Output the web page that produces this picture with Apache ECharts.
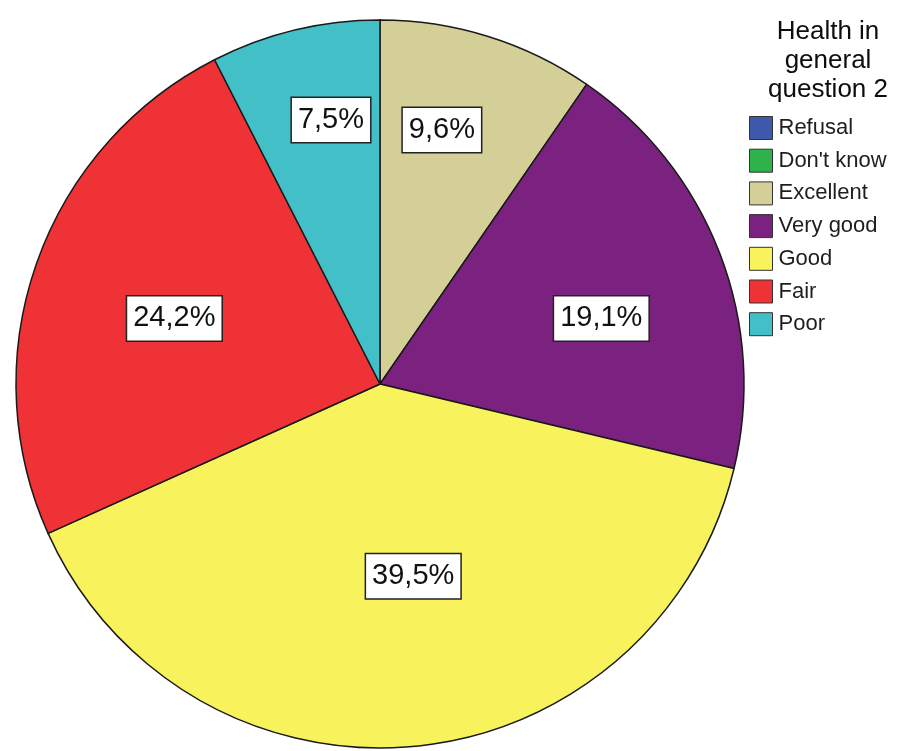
<!DOCTYPE html>
<html>
<head>
<meta charset="utf-8">
<script src="https://cdn.jsdelivr.net/npm/echarts@6/dist/echarts.min.js"></script>
<style>
  html, body { margin: 0; padding: 0; background: #ffffff; }
  #chart { width: 902px; height: 751px; }
</style>
</head>
<body>
<div id="chart"></div>
<script>
// ---- data ----
const legendTitle = 'Health in\ngeneral\nquestion 2';
const categories = ['Refusal', "Don't know", 'Excellent', 'Very good', 'Good', 'Fair', 'Poor'];
const percents   = [0, 0, 9.6, 19.1, 39.5, 24.2, 7.5];

// ---- styles ----
const colors = ['#3E58AC', '#2EB34A', '#D4CE97', '#7B2180', '#F8F35C', '#EE3235', '#43BFC8'];
const CENTER = [380, 384];
const RADIUS = 364;
// label placement: fraction of radius and angular shift (degrees) per slice
const labelFrac  = [0, 0, 0.718, 0.634, 0.536, 0.593, 0.738];
const labelShift = [0, 0, -3.6, 4.5, -4.4, -1.7, 3.0];

const chart = echarts.init(document.getElementById('chart'), null, { renderer: 'canvas' });

const pieData = categories.map((name, i) => {
  const item = { name: name, value: percents[i], itemStyle: { color: colors[i] } };
  if (percents[i] === 0) item.label = { show: false };
  return item;
});

chart.setOption({
  backgroundColor: '#ffffff',
  animation: false,
  title: {
    text: legendTitle,
    left: 823,
    top: 12,
    textAlign: 'center',
    textStyle: {
      fontFamily: 'Arial, "Liberation Sans", sans-serif',
      fontSize: 26,
      fontWeight: 'normal',
      lineHeight: 29,
      color: '#0d0d0d'
    }
  },
  legend: {
    orient: 'vertical',
    left: 744,
    top: 111,
    itemWidth: 23,
    itemHeight: 23,
    itemGap: 8.7,
    icon: 'rect',
    selectedMode: false,
    data: categories,
    textStyle: {
      fontFamily: 'Arial, "Liberation Sans", sans-serif',
      fontSize: 22,
      lineHeight: 23,
      color: '#1e1e1e',
      padding: [0, 0, 0, 1]
    },
    itemStyle: { borderColor: '#333333', borderWidth: 1 }
  },
  series: [{
    type: 'pie',
    center: CENTER,
    radius: RADIUS,
    startAngle: 90,
    clockwise: true,
    avoidLabelOverlap: false,
    silent: true,
    emphasis: { disabled: true },
    data: pieData,
    itemStyle: { borderColor: '#1a1a1a', borderWidth: 1.5 },
    labelLine: { show: false },
    label: {
      show: true,
      position: 'inside',
      formatter: p => p.value.toFixed(1).replace('.', ',') + '%',
      fontFamily: 'Arial, "Liberation Sans", sans-serif',
      fontSize: 29,
      lineHeight: 31,
      color: '#111111',
      backgroundColor: '#ffffff',
      borderColor: '#222222',
      borderWidth: 1.5,
      padding: [7, 6, 6, 6]
    },
    labelLayout: function (p) {
      const i = p.dataIndex;
      if (!labelFrac[i]) return {};
      const lx = p.labelRect.x + p.labelRect.width / 2;
      const ly = p.labelRect.y + p.labelRect.height / 2;
      let ang = Math.atan2(lx - CENTER[0], -(ly - CENTER[1]));
      ang += labelShift[i] * Math.PI / 180;
      const d = labelFrac[i] * RADIUS;
      return { x: CENTER[0] + d * Math.sin(ang), y: CENTER[1] - d * Math.cos(ang) };
    }
  }]
});
</script>
</body>
</html>
